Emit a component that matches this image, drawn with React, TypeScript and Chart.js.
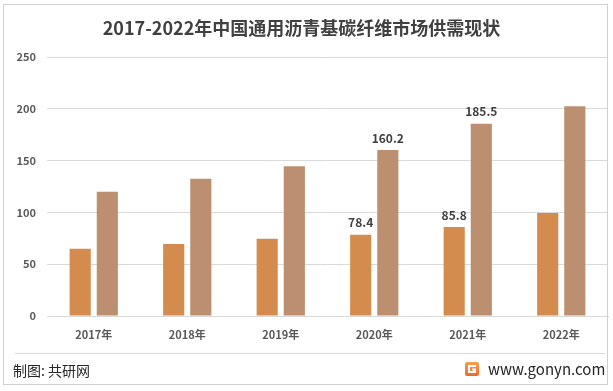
import React, { useEffect, useRef } from "react";
import { Chart, registerables } from "chart.js";

Chart.register(...registerables);

const titleText = "2017-2022年中国通用沥青基碳纤维市场供需现状";
const categories = ["2017年", "2018年", "2019年", "2020年", "2021年", "2022年"];
const supplyValues = [65, 69.5, 74.5, 78.4, 85.8, 99.5];
const demandValues = [120, 132.5, 144.5, 160.2, 185.5, 202.5];
const labeledIndices = [3, 4];
const yTicks = [0, 50, 100, 150, 200, 250];
const footerLeft = "制图: 共研网";
const footerRight = "www.gonyn.com";

const FONT = "'Noto Sans CJK SC', 'Noto Sans', sans-serif";

const decorPlugin = {
  id: "decor",
  beforeDraw(chart: any) {
    const ctx = chart.ctx;
    ctx.save();
    // title
    ctx.fillStyle = "#404040";
    ctx.font = `bold 18px ${FONT}`;
    ctx.textAlign = "center";
    ctx.textBaseline = "middle";
    ctx.fillText(titleText, 301.5, 28);
    // footer left
    ctx.fillStyle = "#262626";
    ctx.font = `14px ${FONT}`;
    ctx.textAlign = "left";
    ctx.fillText(footerLeft, 13, 371);
    // footer right
    ctx.font = `15px ${FONT}`;
    ctx.fillStyle = "#262626";
    ctx.textAlign = "left";
    ctx.fillText(footerRight, 488, 369);
    // logo
    const lx = 465, ly = 362, ls = 14;
    const g = ctx.createLinearGradient(lx, ly, lx, ly + ls);
    g.addColorStop(0, "#F6A04D");
    g.addColorStop(1, "#EE6A2A");
    ctx.fillStyle = g;
    ctx.beginPath();
    (ctx as any).roundRect ? (ctx as any).roundRect(lx, ly, ls, ls, 2) : ctx.rect(lx, ly, ls, ls);
    ctx.fill();
    ctx.strokeStyle = "#ffffff";
    ctx.lineWidth = 2;
    ctx.beginPath();
    ctx.moveTo(lx + 11, ly + 4);
    ctx.lineTo(lx + 4, ly + 4);
    ctx.lineTo(lx + 4, ly + 10);
    ctx.lineTo(lx + 10, ly + 10);
    ctx.lineTo(lx + 10, ly + 7.5);
    ctx.lineTo(lx + 7, ly + 7.5);
    ctx.stroke();
    ctx.restore();
  },
  afterDatasetsDraw(chart: any) {
    const ctx = chart.ctx;
    ctx.save();
    ctx.fillStyle = "#404040";
    ctx.font = `bold 12px ${FONT}`;
    ctx.textAlign = "center";
    ctx.textBaseline = "middle";
    chart.data.datasets.forEach((ds: any, di: number) => {
      const meta = chart.getDatasetMeta(di);
      labeledIndices.forEach((i) => {
        const el = meta.data[i];
        if (!el) return;
        ctx.fillText(String(ds.data[i]), el.x, el.y - 12);
      });
    });
    ctx.restore();
  },
};

export default function App() {
  const ref = useRef<HTMLCanvasElement | null>(null);
  useEffect(() => {
    if (!ref.current) return;
    const chart = new Chart(ref.current, {
      type: "bar",
      data: {
        labels: categories,
        datasets: [
          {
            label: "供给",
            data: supplyValues,
            backgroundColor: "#D48C4E",
            categoryPercentage: 0.58,
            barPercentage: 0.78,
          },
          {
            label: "需求",
            data: demandValues,
            backgroundColor: "#BB8F6F",
            categoryPercentage: 0.58,
            barPercentage: 0.78,
          },
        ],
      },
      options: {
        responsive: false,
        animation: false,
        devicePixelRatio: 1,
        layout: { padding: { left: 0, right: 5, top: 57, bottom: 45 } },
        plugins: {
          legend: { display: false },
          title: { display: false },
          tooltip: { enabled: false },
        },
        scales: {
          x: {
            grid: { display: false, drawTicks: false },
            border: { display: true, color: "#D9D9D9" },
            ticks: {
              color: "#595959",
              font: { family: FONT, size: 11, weight: "bold" },
              padding: 12,
            },
            afterFit: (axis: any) => {
              axis.height = 30;
            },
          },
          y: {
            min: 0,
            max: 250,
            afterBuildTicks: (axis: any) => {
              axis.ticks = yTicks.map((v) => ({ value: v }));
            },
            grid: { color: "#D9D9D9", drawTicks: false },
            border: { display: false },
            ticks: {
              color: "#595959",
              font: { family: FONT, size: 11, weight: "bold" },
              padding: 11,
            },
            afterFit: (axis: any) => {
              axis.width = 47;
            },
          },
        },
      },
      plugins: [decorPlugin],
    });
    return () => chart.destroy();
  }, []);
  return (
    <div style={{ position: "fixed", left: 0, top: 0, width: 613, height: 391, background: "#fff" }}>
      <canvas ref={ref} width={613} height={391} style={{ width: 613, height: 391, display: "block" }} />
      <div
        style={{
          position: "absolute",
          left: 3,
          top: 4,
          width: 603,
          height: 379,
          border: "1px solid #D0D0D0",
          pointerEvents: "none",
        }}
      />
      <div
        style={{
          position: "absolute",
          left: 15,
          top: 353,
          width: 590,
          height: 0,
          borderTop: "1px solid #D9D9D9",
          pointerEvents: "none",
        }}
      />
    </div>
  );
}
